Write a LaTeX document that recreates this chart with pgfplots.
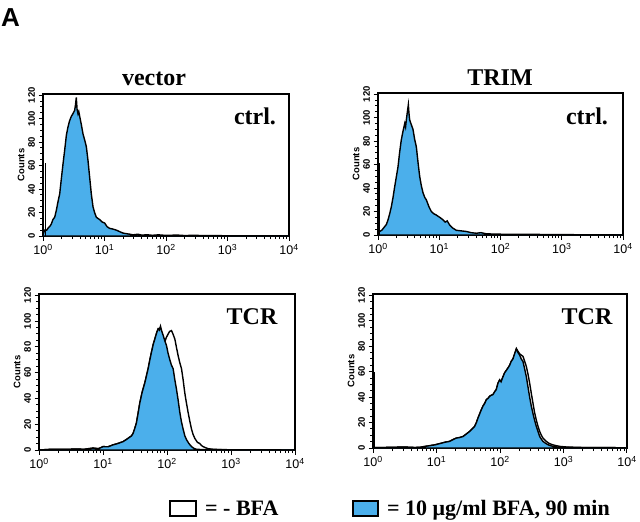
\documentclass[border=0pt]{standalone}
\usepackage{fontspec}
\setmainfont{Liberation Serif}
\setsansfont{Liberation Sans}
\usepackage{pgfplots}
\pgfplotsset{compat=1.18}
\definecolor{fillblue}{RGB}{75,175,235}
\begin{document}
\begin{tikzpicture}
\path[use as bounding box] (0pt,0pt) rectangle (640pt,-522pt);
\node[anchor=base west, inner sep=0, font=\fontsize{26}{26}\selectfont\sffamily\bfseries] at (1pt,-26pt) {A};

% ---------- top left: vector, ctrl.
\begin{axis}[at={(43pt,-236pt)}, anchor=south west, width=246pt, height=142pt,
  scale only axis, xmode=log, xmin=1, xmax=10000, ymin=0, ymax=121,
  xtick={1,10,100,1000,10000},
  xticklabels={10\textsuperscript{0},10\textsuperscript{1},10\textsuperscript{2},10\textsuperscript{3},10\textsuperscript{4}},
  ytick={0,20,40,60,80,100,120}, yticklabels={0,20,40,60,80,100,120},
  minor y tick num=3, axis line style={line width=1.3pt},
  tick align=outside, xtick pos=left, ytick pos=left,
  major tick length=4.5pt, minor tick length=3pt, tick style={black, line width=1pt},
  xticklabel style={font=\fontsize{12.5}{12}\selectfont\sffamily},
  yticklabel style={font=\fontsize{9.5}{9}\selectfont\sffamily\bfseries, rotate=90, anchor=south},
  ylabel={Counts}, ylabel style={font=\fontsize{9.5}{9}\selectfont\sffamily\bfseries, yshift=-3pt}]
\addplot[fill=fillblue, draw=black, line width=1.4pt] coordinates {
(1.0,1) (1.06,5) (1.15,5) (1.22,7) (1.28,8) (1.36,10) (1.45,14) (1.55,16) (1.65,22) (1.75,29)
(1.87,36) (1.98,48) (2.1,60) (2.25,73) (2.4,86) (2.55,93) (2.7,98) (2.89,102) (3.05,104) (3.27,107)
(3.38,112) (3.48,118) (3.58,108) (3.71,104) (3.82,106) (3.95,102) (4.2,95) (4.47,87) (4.75,82) (5.07,76)
(5.4,64) (5.74,50) (6.1,36) (6.5,25) (6.9,20) (7.37,16) (7.8,15) (8.35,14) (9.1,12) (10.07,11)
(11,8) (12.1,6.5) (13.5,6) (15.6,5) (18,3.5) (20,2.5) (22.6,2) (26,1.5) (29,1) (35,1.5)
(40,0.8) (50,1) (60,0.6) (75,1) (100,0.5) (150,0.8) (200,0.4) (300,0.6) (400,0.3) (700,0.3)
(1000,0.2) (3000,0.2) (10000,0)} \closedcycle;
\addplot[black, line width=1.1pt] coordinates {(1.08,0) (1.08,62)};
\end{axis}

% ---------- top right: TRIM, ctrl.
\begin{axis}[at={(378pt,-235pt)}, anchor=south west, width=245pt, height=142pt,
  scale only axis, xmode=log, xmin=1, xmax=10000, ymin=0, ymax=121,
  xtick={1,10,100,1000,10000},
  xticklabels={10\textsuperscript{0},10\textsuperscript{1},10\textsuperscript{2},10\textsuperscript{3},10\textsuperscript{4}},
  ytick={0,20,40,60,80,100,120}, yticklabels={0,20,40,60,80,100,120},
  minor y tick num=3, axis line style={line width=1.3pt},
  tick align=outside, xtick pos=left, ytick pos=left,
  major tick length=4.5pt, minor tick length=3pt, tick style={black, line width=1pt},
  xticklabel style={font=\fontsize{12.5}{12}\selectfont\sffamily},
  yticklabel style={font=\fontsize{9.5}{9}\selectfont\sffamily\bfseries, rotate=90, anchor=south},
  ylabel={Counts}, ylabel style={font=\fontsize{9.5}{9}\selectfont\sffamily\bfseries, yshift=-3pt}]
\addplot[fill=fillblue, draw=black, line width=1.4pt] coordinates {
(1.0,1) (1.06,3) (1.15,4) (1.28,7) (1.37,9) (1.46,13) (1.55,18) (1.65,24) (1.76,32) (1.87,41)
(2.0,50) (2.12,58) (2.25,70) (2.40,81) (2.55,88) (2.73,95) (2.82,92) (2.90,98) (3.0,104) (3.13,111)
(3.2,104) (3.29,98) (3.5,94) (3.73,90) (3.95,82) (4.23,75) (4.5,62) (4.79,50) (5.1,42) (5.43,36)
(5.8,32) (6.15,30) (6.8,24) (7.43,20) (8.2,18) (8.96,17) (10.2,15) (11.5,13) (12.5,11) (13.5,12)
(14.8,8.5) (16.5,6) (19,4) (23,3.5) (27.7,3) (33,2) (40.3,1.5) (48,2) (58.7,1) (80,0.8)
(120,0.6) (205,0.5) (350,0.6) (600,0.3) (1000,0.3) (3000,0.2) (10000,0)} \closedcycle;
\addplot[black, line width=1.1pt] coordinates {(1.04,0) (1.04,61)};
\end{axis}

% ---------- bottom left: vector, TCR
\begin{axis}[at={(39pt,-450pt)}, anchor=south west, width=256pt, height=156pt,
  scale only axis, xmode=log, xmin=1, xmax=10000, ymin=0, ymax=121,
  xtick={1,10,100,1000,10000},
  xticklabels={10\textsuperscript{0},10\textsuperscript{1},10\textsuperscript{2},10\textsuperscript{3},10\textsuperscript{4}},
  ytick={0,20,40,60,80,100,120}, yticklabels={0,20,40,60,80,100,120},
  minor y tick num=3, axis line style={line width=1.3pt},
  tick align=outside, xtick pos=left, ytick pos=left,
  major tick length=4.5pt, minor tick length=3pt, tick style={black, line width=1pt},
  xticklabel style={font=\fontsize{12.5}{12}\selectfont\sffamily},
  yticklabel style={font=\fontsize{9.5}{9}\selectfont\sffamily\bfseries, rotate=90, anchor=south},
  ylabel={Counts}, ylabel style={font=\fontsize{9.5}{9}\selectfont\sffamily\bfseries, yshift=-3pt}]
\addplot[fill=white, draw=black, line width=1.4pt] coordinates {
(1.0,0) (1.5,0.5) (2.68,0.5) (4,0.8) (5,0.5) (7,1.5) (8.5,1) (10,2.6) (12,2.5) (14.4,4)
(17,5) (20.6,6.5) (23,8) (26.2,10) (28,11) (29.6,13) (31.5,17) (33.3,21) (35.5,29) (37.6,36.5)
(41,45) (45,52) (48,58) (50.7,63) (54,70) (57.3,76) (61,82) (64.5,86) (69,91) (72.8,94)
(77.2,94.5) (83,88) (90.3,82) (97,87) (104.2,90) (110,92) (117.5,92.6) (124,90) (132.7,86) (140,80)
(149.5,73) (158,68) (168.6,63) (178,55) (190,44) (202,36) (214,29) (228,22) (242,16) (256,12)
(272,9) (298,6) (326,5) (345,3.5) (368,2.6) (400,1.8) (441,1) (520,0.6) (675,0.3) (1000,0.2)
(10000,0)} \closedcycle;
\addplot[fill=fillblue, draw=black, line width=1.4pt] coordinates {
(1.0,0) (1.5,0.5) (2.68,0.5) (4,0.8) (5,0.5) (7,1.5) (8.5,1) (10,2.6) (12,2.5) (14.4,4)
(17,5) (20.6,6.5) (23,8) (26.2,10) (28,11) (29.6,13) (31.5,17) (33.3,21) (35.5,29) (37.6,36.5)
(41,45) (45,52) (48,58) (50.7,63) (54,70) (57.3,76) (61,82) (64.5,86) (69,91) (72.8,94)
(76,93) (79.1,96) (83,92) (87.1,89) (92,85) (98.2,81) (104,75) (110.7,70) (117,66) (124.8,63)
(132,55) (140.8,47) (150,38) (158.8,29) (168,22) (179,16) (190,11) (202,8) (220,5) (242,2.6)
(265,1.2) (290,0.5) (400,0.3) (1000,0.2) (10000,0)} \closedcycle;
\addplot[black, line width=1.1pt] coordinates {(1.02,0) (1.02,61)};
\end{axis}

% ---------- bottom right: TRIM, TCR
\begin{axis}[at={(373pt,-448pt)}, anchor=south west, width=254pt, height=154pt,
  scale only axis, xmode=log, xmin=1, xmax=10000, ymin=0, ymax=121,
  xtick={1,10,100,1000,10000},
  xticklabels={10\textsuperscript{0},10\textsuperscript{1},10\textsuperscript{2},10\textsuperscript{3},10\textsuperscript{4}},
  ytick={0,20,40,60,80,100,120}, yticklabels={0,20,40,60,80,100,120},
  minor y tick num=3, axis line style={line width=1.3pt},
  tick align=outside, xtick pos=left, ytick pos=left,
  major tick length=4.5pt, minor tick length=3pt, tick style={black, line width=1pt},
  xticklabel style={font=\fontsize{12.5}{12}\selectfont\sffamily},
  yticklabel style={font=\fontsize{9.5}{9}\selectfont\sffamily\bfseries, rotate=90, anchor=south},
  ylabel={Counts}, ylabel style={font=\fontsize{9.5}{9}\selectfont\sffamily\bfseries, yshift=-3pt}]
\addplot[fill=white, draw=black, line width=1.4pt] coordinates {
(1,0.3) (2,0.5) (3,0.8) (4.5,0.4) (5.43,0.5) (6.5,1.2) (7.8,1.8) (9.5,2.5) (11.2,3.4) (13.5,4.5)
(16.1,5.2) (18,6.5) (20.5,7.8) (23,8.2) (26.1,9) (29.5,11) (33.3,13) (36.5,15) (39.9,17) (42.5,20)
(45,23.5) (48,27) (50.8,30) (54,33) (57.4,35) (61,38) (64.7,39) (70,41) (77.6,42) (82,44)
(87.5,46) (93,51) (98.8,53.5) (104,52) (111.5,56) (118,59) (125.9,61) (134,63) (142,65) (150,68)
(160,70) (170,74) (181,78) (192,76) (204,74) (216,73) (230,72) (245,68) (260,64) (276,58)
(293,51) (311,43) (331,35) (350,28) (373,22) (397,17) (422,13) (448,10) (475,7.8) (505,6.5)
(537,5.2) (570,4.2) (605,3.4) (680,2.5) (771,1.8) (900,1.2) (1109,0.8) (2000,0.4) (5000,0.4) (10000,0)} \closedcycle;
\addplot[fill=fillblue, draw=black, line width=1.4pt] coordinates {
(1,0.3) (2,0.5) (3,0.8) (4.5,0.4) (5.43,0.5) (6.5,1.2) (7.8,1.8) (9.5,2.5) (11.2,3.4) (13.5,4.5)
(16.1,5.2) (18,6.5) (20.5,7.8) (23,8.2) (26.1,9) (29.5,11) (33.3,13) (36.5,15) (39.9,17) (42.5,20)
(45,23.5) (48,27) (50.8,30) (54,33) (57.4,35) (61,38) (64.7,39) (70,41) (77.6,42) (82,44)
(87.5,46) (93,51) (98.8,53.5) (104,52) (111.5,56) (118,59) (125.9,61) (134,63) (142,65) (150,68)
(160,70) (170,74) (181,78) (192,75) (204,73) (216,70) (230,68) (245,62) (260,56) (276,48)
(293,40) (311,33) (331,27) (350,22) (373,17) (397,13) (422,9) (448,7) (475,5.2) (520,3.8)
(570,2.6) (625,1.8) (684,1.3) (800,0.8) (982,0.5) (2000,0.3) (5000,0.4) (10000,0)} \closedcycle;
\addplot[black, line width=1.1pt] coordinates {(1.04,0) (1.04,60)};
\end{axis}

% ---------- titles and panel labels
\begin{scope}[every node/.style={inner sep=0, font=\fontsize{24}{24}\selectfont\bfseries}]
\node[anchor=base] at (154pt,-85pt) {vector};
\node[anchor=base] at (500pt,-85pt) {TRIM};
\node[anchor=base] at (255pt,-124pt) {ctrl.};
\node[anchor=base] at (587pt,-124pt) {ctrl.};
\node[anchor=base] at (252pt,-324pt) {TCR};
\node[anchor=base] at (587pt,-324pt) {TCR};
\end{scope}

% ---------- legend
\draw[line width=2pt, fill=white] (170pt,-501pt) rectangle (196pt,-516pt);
\draw[line width=2pt, fill=fillblue] (353pt,-501pt) rectangle (378pt,-516pt);
\node[anchor=base west, inner sep=0, font=\fontsize{22}{22}\selectfont\bfseries] at (205pt,-515pt) {= - BFA};
\node[anchor=base west, inner sep=0, font=\fontsize{22}{22}\selectfont\bfseries] at (387pt,-515pt) {= 10 μg/ml BFA, 90 min};
\end{tikzpicture}
\end{document}
